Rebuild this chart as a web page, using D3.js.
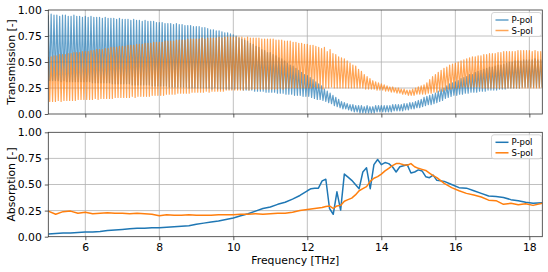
<!DOCTYPE html>
<html><head><meta charset="utf-8">
<script src="https://cdn.jsdelivr.net/npm/d3@7/dist/d3.min.js"></script>
<style>body{margin:0;background:#fff}svg{display:block}text{font-family:"DejaVu Sans",sans-serif;fill:#000}</style>
</head><body>
<script>
// ---------- DATA ----------
const seriesNames = ["P-pol", "S-pol"];
const xTicks = [6, 8, 10, 12, 14, 16, 18];
const yTicks = [0, 0.25, 0.5, 0.75, 1.0];
const xDomain = [5, 18.35];
// Transmission fringes: one peak and one trough per fringe, 13 fringes per THz starting at 5 THz
const fringeStart = 5.0;
const fringesPerTHz = 13;
const pPeak = [
 .95,.96,.95,.95,.94,.95,.95,.94,.94,.95,.94,.94,.93,
 .94,.93,.94,.93,.93,.93,.92,.93,.92,.92,.92,.91,.92,
 .91,.91,.91,.90,.91,.90,.90,.89,.90,.89,.89,.89,.88,
 .88,.88,.87,.87,.87,.86,.87,.86,.86,.85,.85,.85,.84,
 .84,.84,.83,.83,.82,.81,.81,.80,.80,.79,.78,.78,.77,
 .76,.75,.73,.72,.71,.70,.68,.67,.65,.64,.62,.61,.59,
 .59,.57,.56,.54,.53,.51,.49,.47,.46,.44,.42,.40,.38,
 .37,.35,.33,.31,.29,.27,.24,.22,.20,.18,.16,.14,.12,
 .11,.10,.09,.09,.08,.08,.08,.07,.08,.07,.07,.08,.08,
 .08,.08,.08,.08,.09,.09,.09,.09,.10,.10,.11,.11,.12,
 .13,.14,.16,.17,.18,.19,.20,.22,.24,.25,.27,.29,.30,
 .31,.32,.34,.35,.36,.38,.38,.40,.41,.42,.43,.44,.45,
 .45,.46,.47,.47,.48,.49,.50,.50,.51,.51,.51,.52,.52,
 .52,.52,.53,.52,.52];
const pTrough = [
 .32,.32,.32,.32,.31,.32,.31,.31,.31,.31,.31,.31,.31,
 .31,.31,.30,.30,.30,.30,.30,.30,.30,.29,.29,.29,.29,
 .29,.29,.29,.28,.28,.28,.28,.28,.28,.28,.27,.27,.27,
 .27,.27,.27,.26,.26,.26,.26,.26,.26,.26,.25,.25,.25,
 .25,.25,.25,.25,.25,.24,.25,.24,.24,.24,.24,.24,.24,
 .24,.24,.24,.23,.23,.23,.23,.22,.22,.22,.22,.21,.21,
 .21,.21,.20,.20,.20,.19,.19,.19,.18,.18,.18,.17,.17,
 .17,.16,.15,.14,.14,.13,.12,.11,.10,.08,.07,.06,.05,
 .05,.04,.03,.02,.02,.01,.01,.01,.01,.01,.01,.02,.02,
 .02,.02,.02,.02,.03,.03,.03,.03,.04,.04,.05,.05,.06,
 .06,.07,.08,.09,.09,.10,.11,.12,.13,.15,.16,.17,.18,
 .18,.19,.19,.20,.20,.21,.21,.21,.22,.22,.22,.23,.23,
 .23,.23,.24,.24,.24,.25,.25,.25,.25,.25,.26,.26,.26,
 .26,.26,.26,.26,.26];
const sPeak = [
 .55,.55,.56,.56,.57,.57,.57,.58,.58,.59,.59,.59,.60,
 .60,.60,.61,.61,.62,.62,.62,.63,.63,.64,.64,.64,.65,
 .65,.65,.66,.66,.66,.67,.67,.67,.68,.68,.68,.69,.69,
 .69,.69,.70,.70,.70,.70,.71,.71,.71,.71,.72,.72,.72,
 .72,.72,.73,.72,.73,.73,.73,.73,.74,.73,.74,.74,.74,
 .74,.74,.74,.74,.73,.74,.73,.73,.73,.73,.72,.72,.72,
 .72,.72,.71,.71,.71,.70,.70,.70,.69,.69,.68,.68,.67,
 .67,.66,.66,.65,.64,.63,.64,.60,.62,.58,.57,.55,.54,
 .53,.51,.49,.47,.46,.43,.41,.38,.36,.34,.32,.31,.30,
 .29,.28,.27,.26,.26,.25,.25,.24,.24,.23,.23,.24,.25,
 .26,.27,.28,.30,.33,.36,.38,.40,.42,.44,.45,.47,.48,
 .49,.50,.51,.52,.53,.54,.55,.55,.56,.56,.57,.57,.58,
 .58,.58,.59,.59,.60,.60,.60,.60,.60,.61,.61,.61,.61,
 .61,.60,.61,.60,.60];
const sTrough = [
 .12,.12,.12,.13,.12,.13,.13,.13,.13,.13,.14,.14,.14,
 .14,.14,.14,.15,.14,.15,.15,.15,.15,.15,.16,.16,.16,
 .16,.16,.16,.17,.16,.17,.17,.17,.17,.17,.18,.18,.18,
 .18,.18,.19,.19,.19,.19,.20,.20,.20,.20,.20,.21,.21,
 .21,.21,.21,.22,.21,.22,.22,.22,.22,.22,.23,.23,.23,
 .23,.23,.23,.23,.24,.23,.24,.24,.24,.24,.24,.24,.24,
 .24,.24,.24,.25,.24,.25,.25,.25,.25,.25,.25,.25,.25,
 .25,.25,.26,.25,.25,.24,.25,.25,.26,.25,.25,.25,.25,
 .25,.25,.25,.25,.25,.25,.25,.24,.24,.24,.24,.23,.23,
 .23,.22,.22,.21,.21,.20,.20,.19,.19,.18,.18,.18,.19,
 .19,.19,.19,.20,.20,.21,.21,.22,.22,.23,.24,.24,.25,
 .25,.25,.26,.26,.26,.26,.26,.26,.26,.25,.25,.25,.25,
 .25,.25,.25,.25,.25,.25,.25,.25,.25,.25,.25,.25,.25,
 .25,.25,.25,.25,.25];
// Absorption
const absFreq = [5.0,5.2,5.4,5.6,5.8,6.0,6.2,6.4,6.6,6.8,7.0,7.2,7.4,7.6,7.8,8.0,8.2,8.4,8.6,8.8,9.0,9.2,9.4,9.6,9.8,10.0,10.2,10.4,10.6,10.8,11.0,11.2,11.4,11.6,11.8,12.0,
 12.1,12.2,12.3,12.4,12.5,12.6,12.7,12.8,12.9,13.0,13.1,13.2,13.3,13.4,13.5,13.6,13.7,13.8,13.9,14.0,14.1,14.2,14.3,14.4,14.5,14.6,14.7,14.8,14.9,15.0,15.1,15.2,15.3,15.4,15.5,
 15.7,15.9,16.1,16.3,16.5,16.7,16.9,17.1,17.3,17.5,17.7,17.9,18.1,18.35];
const pAbs = [.025,.03,.035,.035,.04,.045,.045,.05,.06,.065,.07,.075,.08,.08,.085,.085,.09,.095,.10,.105,.12,.13,.14,.15,.165,.18,.20,.22,.245,.27,.285,.31,.33,.36,.395,.44,
 .46,.465,.465,.535,.55,.27,.215,.43,.255,.60,.57,.54,.50,.46,.62,.66,.46,.69,.74,.69,.71,.70,.67,.62,.67,.68,.69,.61,.62,.64,.63,.575,.565,.59,.54,
 .53,.50,.47,.465,.44,.415,.39,.385,.375,.355,.345,.33,.32,.325];
const sAbs = [.245,.215,.24,.245,.225,.235,.22,.225,.23,.225,.225,.22,.225,.22,.215,.20,.21,.205,.205,.21,.205,.205,.205,.21,.21,.21,.215,.215,.22,.215,.22,.225,.225,.235,.25,.26,
 .265,.27,.275,.28,.29,.295,.27,.295,.30,.34,.355,.37,.40,.44,.46,.48,.53,.56,.575,.60,.63,.655,.68,.70,.70,.69,.685,.70,.67,.655,.645,.635,.61,.585,.565,
 .51,.47,.44,.415,.40,.38,.35,.345,.31,.32,.305,.315,.30,.32];

// ---------- LAYOUT ----------
const W = 548, H = 272;
const L = 48.3, R = 542.3;
const panels = [
  {top: 10, bottom: 114, label: "Transmission [-]"},
  {top: 132.3, bottom: 236.7, label: "Absorption [-]"}
];
const colors = ["#1f77b4", "#ff7f0e"];
const FS = 10.8;

const svg = d3.select("body").append("svg").attr("width", W).attr("height", H);
const x = d3.scaleLinear().domain(xDomain).range([L, R]);

panels.forEach((p, pi) => {
  const y = d3.scaleLinear().domain([0, 1]).range([p.bottom, p.top]);
  p.y = y;
  const g = svg.append("g");
  const clipId = "clip" + pi;
  svg.append("clipPath").attr("id", clipId).append("rect")
    .attr("x", L).attr("y", p.top).attr("width", R - L).attr("height", p.bottom - p.top);
  g.append("g").selectAll("line").data(xTicks).join("line")
    .attr("x1", d => x(d)).attr("x2", d => x(d)).attr("y1", p.top).attr("y2", p.bottom)
    .attr("stroke", "#b0b0b0").attr("stroke-width", 0.8);
  g.append("g").selectAll("line").data(yTicks.slice(1, -1)).join("line")
    .attr("y1", d => y(d)).attr("y2", d => y(d)).attr("x1", L).attr("x2", R)
    .attr("stroke", "#b0b0b0").attr("stroke-width", 0.8);
  p.g = g; p.clip = clipId;
});

function fringePoints(peak, trough) {
  const pts = [];
  peak.forEach((v, i) => {
    pts.push([fringeStart + i / fringesPerTHz, v]);
    pts.push([fringeStart + (i + 0.5) / fringesPerTHz, trough[i]]);
  });
  return pts;
}
const topP = panels[0];
const lineTop = d3.line().x(d => x(d[0])).y(d => topP.y(d[1]));
const transSeries = [fringePoints(pPeak, pTrough), fringePoints(sPeak, sTrough)];
transSeries.forEach((pts, k) => {
  topP.g.append("path").attr("clip-path", `url(#${topP.clip})`)
    .attr("d", lineTop(pts)).attr("fill", "none")
    .attr("stroke", colors[k]).attr("stroke-width", 1.2).attr("stroke-opacity", 0.7)
    .attr("stroke-linejoin", "round");
});

const botP = panels[1];
const lineBot = d3.line().x((d, i) => x(absFreq[i])).y(d => botP.y(d));
[pAbs, sAbs].forEach((vals, k) => {
  botP.g.append("path").attr("clip-path", `url(#${botP.clip})`)
    .attr("d", lineBot(vals)).attr("fill", "none")
    .attr("stroke", colors[k]).attr("stroke-width", 1.5).attr("stroke-linejoin", "round");
});

panels.forEach((p, pi) => {
  const g = p.g;
  const yAxis = d3.axisLeft(p.y).tickValues(yTicks).tickFormat(d3.format(".2f")).tickSize(3.5).tickPadding(3);
  const ya = g.append("g").attr("transform", `translate(${L},0)`).call(yAxis);
  const xAxis = d3.axisBottom(x).tickValues(xTicks).tickSize(3.5).tickPadding(3.5)
    .tickFormat(pi === 1 ? d3.format("d") : () => "");
  const xa = g.append("g").attr("transform", `translate(0,${p.bottom})`).call(xAxis);
  [ya, xa].forEach(a => {
    a.select(".domain").remove();
    a.selectAll(".tick line").attr("stroke", "#333").attr("stroke-width", 0.8);
    a.selectAll("text").attr("font-size", FS).attr("font-family", "DejaVu Sans").attr("fill", "#000");
  });
  g.append("rect").attr("x", L).attr("y", p.top).attr("width", R - L).attr("height", p.bottom - p.top)
    .attr("fill", "none").attr("stroke", "#333").attr("stroke-width", 0.8);
  g.append("text").attr("transform", `translate(15,${(p.top + p.bottom) / 2}) rotate(-90)`)
    .attr("text-anchor", "middle").attr("font-size", FS).text(p.label);
  const lg = g.append("g").attr("transform", `translate(491.5,${p.top + 2.5})`);
  lg.append("rect").attr("width", 50).attr("height", 24).attr("rx", 2.5)
    .attr("fill", "#fff").attr("fill-opacity", 0.8).attr("stroke", "#ccc").attr("stroke-width", 0.8);
  seriesNames.forEach((n, k) => {
    const yy = 7.5 + k * 10.5;
    lg.append("line").attr("x1", 4).attr("x2", 17).attr("y1", yy).attr("y2", yy)
      .attr("stroke", colors[k]).attr("stroke-width", 1.5).attr("stroke-opacity", pi === 0 ? 0.7 : 1);
    lg.append("text").attr("x", 20).attr("y", yy + 3).attr("font-size", 8.5).text(n);
  });
});

svg.append("text").attr("x", (L + R) / 2).attr("y", 264).attr("text-anchor", "middle")
  .attr("font-size", FS).text("Frequency [THz]");
</script>
</body></html>
